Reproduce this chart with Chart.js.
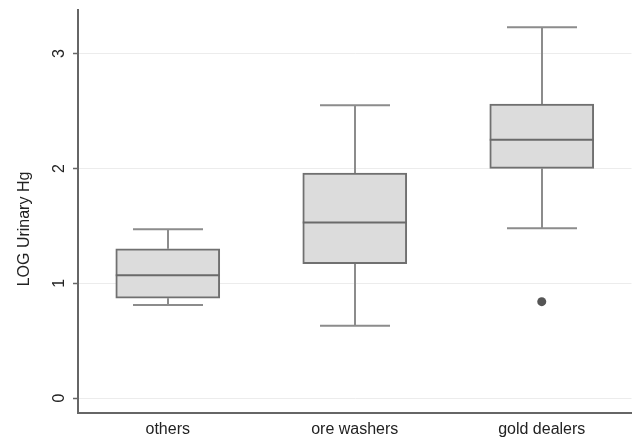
<!DOCTYPE html>
<html>
<head>
<meta charset="utf-8">
<script src="https://cdn.jsdelivr.net/npm/chart.js@4/dist/chart.umd.min.js"></script>
<style>
  html, body { margin: 0; padding: 0; background: #fff; }
  #wrap { width: 636px; height: 439px; }
</style>
</head>
<body>
<div id="wrap"><canvas id="c" width="636" height="439"></canvas></div>
<script>
// Box-plot summaries per occupational group (log urinary mercury)
const groups      = ['others', 'ore washers', 'gold dealers'];
const whiskerLow  = [0.81, 0.63, 1.48];
const quartile1   = [0.87, 1.17, 2.00];
const medians     = [1.07, 1.53, 2.25];
const quartile3   = [1.30, 1.96, 2.56];
const whiskerHigh = [1.47, 2.55, 3.23];
// Outside values: group position (1-based) and value
const outlierGroup = [3];
const outlierValue = [0.84];
// Axis ticks and title
const yTickValues = [0, 1, 2, 3];
const yTitle = 'LOG Urinary Hg';

const FONT = '"Liberation Sans", Arial, Helvetica, sans-serif';
const positions = groups.map((g, i) => i + 1);

// Whiskers, caps, medians and the rotated y-axis text
const boxParts = {
  id: 'boxParts',
  beforeDatasetsDraw(chart) {
    const { ctx, scales: { x, y } } = chart;
    const capHalf = 35;
    ctx.save();
    ctx.strokeStyle = '#8c8c8c';
    ctx.lineWidth = 2;
    positions.forEach((p, i) => {
      const px = Math.round(x.getPixelForValue(p));
      ctx.beginPath();
      ctx.moveTo(px, y.getPixelForValue(whiskerLow[i]));
      ctx.lineTo(px, y.getPixelForValue(quartile1[i]));
      ctx.moveTo(px, y.getPixelForValue(quartile3[i]));
      ctx.lineTo(px, y.getPixelForValue(whiskerHigh[i]));
      ctx.moveTo(px - capHalf, y.getPixelForValue(whiskerLow[i]));
      ctx.lineTo(px + capHalf, y.getPixelForValue(whiskerLow[i]));
      ctx.moveTo(px - capHalf, y.getPixelForValue(whiskerHigh[i]));
      ctx.lineTo(px + capHalf, y.getPixelForValue(whiskerHigh[i]));
      ctx.stroke();
    });
    ctx.restore();
  },
  afterDatasetsDraw(chart) {
    const { ctx, scales: { y } } = chart;
    const bars = chart.getDatasetMeta(0).data;
    ctx.save();
    ctx.strokeStyle = '#6a6a6a';
    ctx.lineWidth = 2;
    bars.forEach((bar, i) => {
      const py = y.getPixelForValue(medians[i]);
      ctx.beginPath();
      ctx.moveTo(bar.x - bar.width / 2, py);
      ctx.lineTo(bar.x + bar.width / 2, py);
      ctx.stroke();
    });
    ctx.restore();
  },
  afterDraw(chart) {
    const { ctx, scales: { y } } = chart;
    ctx.save();
    ctx.fillStyle = '#222';
    ctx.textAlign = 'center';
    ctx.textBaseline = 'middle';
    ctx.font = '16px ' + FONT;
    yTickValues.forEach(v => {
      ctx.save();
      ctx.translate(60, y.getPixelForValue(v));
      ctx.rotate(-Math.PI / 2);
      ctx.fillText(String(v), 0, 0);
      ctx.restore();
    });
    ctx.save();
    ctx.translate(25, 229);
    ctx.rotate(-Math.PI / 2);
    ctx.fillText(yTitle, 0, 0);
    ctx.restore();
    ctx.restore();
  }
};

new Chart(document.getElementById('c'), {
  type: 'bar',
  data: {
    datasets: [
      {
        label: 'interquartile range',
        data: positions.map((p, i) => ({ x: p, y: [quartile1[i], quartile3[i]] })),
        backgroundColor: '#dcdcdc',
        borderColor: '#707070',
        borderWidth: 2,
        borderSkipped: false,
        barThickness: 104,
        order: 2
      },
      {
        type: 'scatter',
        label: 'outside values',
        data: outlierGroup.map((g, i) => ({ x: g, y: outlierValue[i] })),
        backgroundColor: '#555',
        borderWidth: 0,
        pointRadius: 4.5,
        order: 1
      }
    ]
  },
  options: {
    responsive: false,
    animation: false,
    devicePixelRatio: 1,
    layout: { padding: { top: 10, left: 0, right: 0, bottom: 0 } },
    plugins: { legend: { display: false }, tooltip: { enabled: false } },
    scales: {
      x: {
        type: 'linear',
        min: 0.52,
        max: 3.48,
        offset: false,
        grid: { display: false, drawTicks: false, offset: false },
        border: { display: true, color: '#666', width: 2 },
        afterBuildTicks(scale) { scale.ticks = positions.map(v => ({ value: v })); },
        afterFit(scale) { scale.height = 26; },
        ticks: {
          padding: 7,
          color: '#222',
          font: { size: 16, family: FONT },
          maxRotation: 0,
          callback: (v) => groups[v - 1]
        }
      },
      y: {
        type: 'linear',
        min: -0.13,
        max: 3.38,
        afterBuildTicks(scale) { scale.ticks = yTickValues.map(v => ({ value: v })); },
        afterFit(scale) { scale.width = 78; },
        grid: { color: '#ececec', lineWidth: 1, tickColor: '#666', tickLength: 5, tickWidth: 1.5 },
        border: { display: true, color: '#666', width: 2 },
        ticks: { display: false }
      }
    }
  },
  plugins: [boxParts]
});
</script>
</body>
</html>
